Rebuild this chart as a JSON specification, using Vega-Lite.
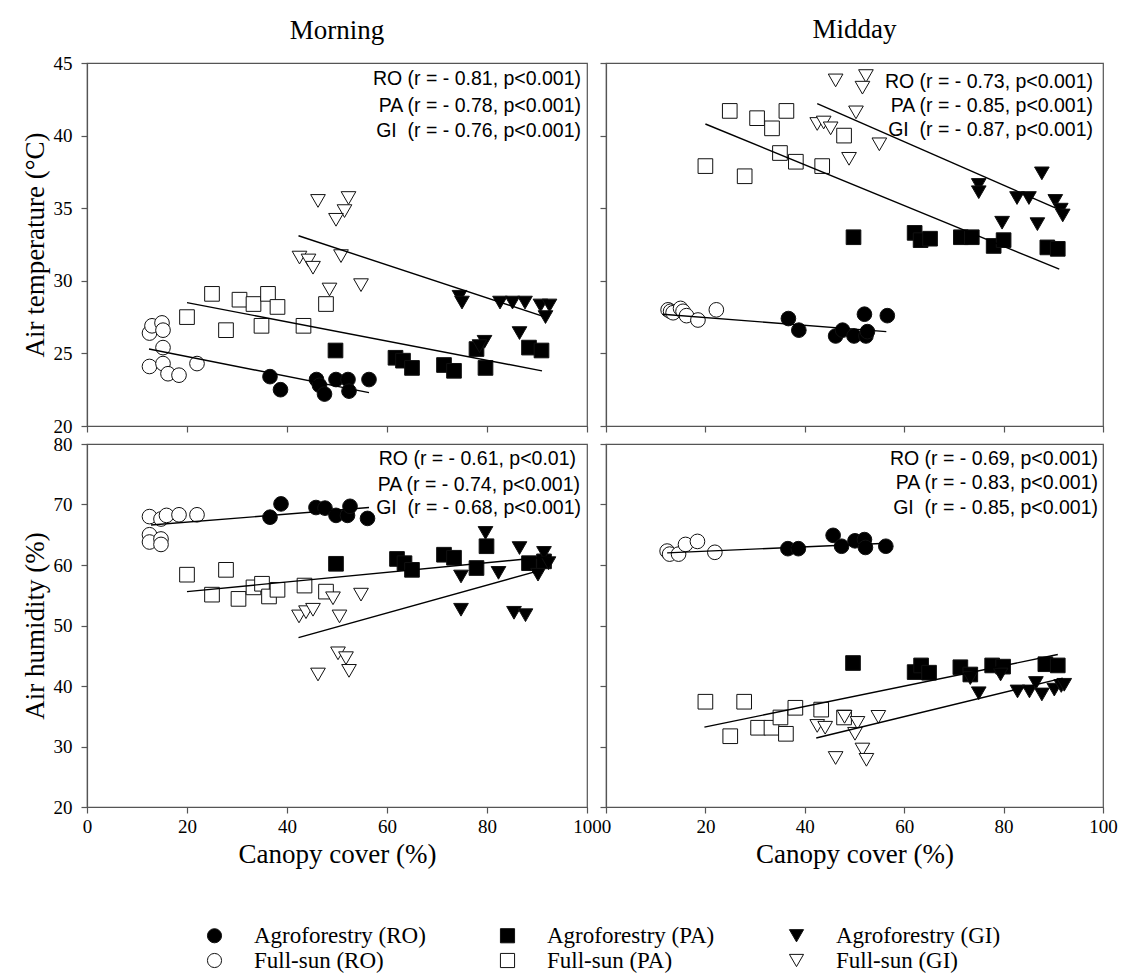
{
  "$schema": "https://vega.github.io/schema/vega-lite/v6.json",
  "background": "white",
  "padding": {"left": 20, "top": 15, "right": 10, "bottom": 2},
  "bounds": "flush",
  "columns": 2,
  "spacing": {"row": 18, "column": 19},
  "config": {
    "view": {"stroke": "#555", "strokeWidth": 1.2},
    "axis": {"grid": false, "domainColor": "#555", "domainWidth": 1.2, "tickColor": "#555", "tickWidth": 1.2, "tickSize": 6, "labelFont": "Liberation Serif", "labelFontSize": 19, "labelColor": "black", "titleFont": "Liberation Serif", "titleFontSize": 27, "titleFontWeight": "normal", "titleColor": "black", "labelFlush": false},
    "axisX": {"labelPadding": 4, "titlePadding": 5},
    "axisY": {"labelPadding": 9, "titlePadding": 4},
    "title": {"font": "Liberation Serif", "fontSize": 27, "fontWeight": "normal", "color": "black"},
    "legend": {"orient": "none", "legendX": 116, "legendY": 861, "columns": 3, "direction": "horizontal", "labelFont": "Liberation Serif", "labelFontSize": 23, "labelColor": "black", "symbolSize": 200, "symbolStrokeWidth": 1, "columnPadding": 70, "rowPadding": 1, "labelOffset": 28, "labelLimit": 300}
  },
  "datasets": {
    "pts": [
      {"panel": "MT", "s": "Full-sun (RO)", "x": 12.5, "y": 26.4},
      {"panel": "MT", "s": "Full-sun (RO)", "x": 13, "y": 26.9},
      {"panel": "MT", "s": "Full-sun (RO)", "x": 15, "y": 27.1},
      {"panel": "MT", "s": "Full-sun (RO)", "x": 15.2, "y": 26.6},
      {"panel": "MT", "s": "Full-sun (RO)", "x": 15.2, "y": 25.4},
      {"panel": "MT", "s": "Full-sun (RO)", "x": 12.5, "y": 24.1},
      {"panel": "MT", "s": "Full-sun (RO)", "x": 15.2, "y": 24.3},
      {"panel": "MT", "s": "Full-sun (RO)", "x": 16.2, "y": 23.6},
      {"panel": "MT", "s": "Full-sun (RO)", "x": 18.4, "y": 23.5},
      {"panel": "MT", "s": "Full-sun (RO)", "x": 22, "y": 24.3},
      {"panel": "MT", "s": "Agroforestry (RO)", "x": 36.6, "y": 23.4},
      {"panel": "MT", "s": "Agroforestry (RO)", "x": 38.7, "y": 22.5},
      {"panel": "MT", "s": "Agroforestry (RO)", "x": 45.9, "y": 23.2},
      {"panel": "MT", "s": "Agroforestry (RO)", "x": 46.5, "y": 22.8},
      {"panel": "MT", "s": "Agroforestry (RO)", "x": 47.5, "y": 22.2},
      {"panel": "MT", "s": "Agroforestry (RO)", "x": 49.8, "y": 23.2},
      {"panel": "MT", "s": "Agroforestry (RO)", "x": 52.2, "y": 23.2},
      {"panel": "MT", "s": "Agroforestry (RO)", "x": 52.4, "y": 22.4},
      {"panel": "MT", "s": "Agroforestry (RO)", "x": 56.4, "y": 23.2},
      {"panel": "MT", "s": "Full-sun (PA)", "x": 20, "y": 27.5},
      {"panel": "MT", "s": "Full-sun (PA)", "x": 25, "y": 29.1},
      {"panel": "MT", "s": "Full-sun (PA)", "x": 27.8, "y": 26.6},
      {"panel": "MT", "s": "Full-sun (PA)", "x": 30.5, "y": 28.7},
      {"panel": "MT", "s": "Full-sun (PA)", "x": 33.3, "y": 28.4},
      {"panel": "MT", "s": "Full-sun (PA)", "x": 36.2, "y": 29.1},
      {"panel": "MT", "s": "Full-sun (PA)", "x": 38.1, "y": 28.2},
      {"panel": "MT", "s": "Full-sun (PA)", "x": 34.9, "y": 26.9},
      {"panel": "MT", "s": "Full-sun (PA)", "x": 43.3, "y": 26.9},
      {"panel": "MT", "s": "Full-sun (PA)", "x": 47.8, "y": 28.4},
      {"panel": "MT", "s": "Agroforestry (PA)", "x": 49.7, "y": 25.2},
      {"panel": "MT", "s": "Agroforestry (PA)", "x": 61.7, "y": 24.7},
      {"panel": "MT", "s": "Agroforestry (PA)", "x": 63.2, "y": 24.5},
      {"panel": "MT", "s": "Agroforestry (PA)", "x": 65, "y": 24.0},
      {"panel": "MT", "s": "Agroforestry (PA)", "x": 71.4, "y": 24.2},
      {"panel": "MT", "s": "Agroforestry (PA)", "x": 73.4, "y": 23.8},
      {"panel": "MT", "s": "Agroforestry (PA)", "x": 79.7, "y": 24.0},
      {"panel": "MT", "s": "Agroforestry (PA)", "x": 77.9, "y": 25.3},
      {"panel": "MT", "s": "Agroforestry (PA)", "x": 88.4, "y": 25.4},
      {"panel": "MT", "s": "Agroforestry (PA)", "x": 90.9, "y": 25.2},
      {"panel": "MT", "s": "Full-sun (GI)", "x": 46.2, "y": 35.5},
      {"panel": "MT", "s": "Full-sun (GI)", "x": 52.3, "y": 35.7},
      {"panel": "MT", "s": "Full-sun (GI)", "x": 51.5, "y": 34.8},
      {"panel": "MT", "s": "Full-sun (GI)", "x": 49.8, "y": 34.2},
      {"panel": "MT", "s": "Full-sun (GI)", "x": 42.5, "y": 31.6},
      {"panel": "MT", "s": "Full-sun (GI)", "x": 44.3, "y": 31.4},
      {"panel": "MT", "s": "Full-sun (GI)", "x": 45.2, "y": 30.9},
      {"panel": "MT", "s": "Full-sun (GI)", "x": 50.8, "y": 31.7},
      {"panel": "MT", "s": "Full-sun (GI)", "x": 54.8, "y": 29.7},
      {"panel": "MT", "s": "Full-sun (GI)", "x": 48.5, "y": 29.4},
      {"panel": "MT", "s": "Agroforestry (GI)", "x": 74.5, "y": 28.9},
      {"panel": "MT", "s": "Agroforestry (GI)", "x": 75, "y": 28.5},
      {"panel": "MT", "s": "Agroforestry (GI)", "x": 82.6, "y": 28.5},
      {"panel": "MT", "s": "Agroforestry (GI)", "x": 85.1, "y": 28.5},
      {"panel": "MT", "s": "Agroforestry (GI)", "x": 87.6, "y": 28.5},
      {"panel": "MT", "s": "Agroforestry (GI)", "x": 90.7, "y": 28.3},
      {"panel": "MT", "s": "Agroforestry (GI)", "x": 92.5, "y": 28.3},
      {"panel": "MT", "s": "Agroforestry (GI)", "x": 91.7, "y": 27.5},
      {"panel": "MT", "s": "Agroforestry (GI)", "x": 86.5, "y": 26.4},
      {"panel": "MT", "s": "Agroforestry (GI)", "x": 79.5, "y": 25.8},
      {"panel": "MT", "s": "Agroforestry (GI)", "x": 78.5, "y": 25.5},

      {"panel": "DT", "s": "Full-sun (RO)", "x": 12.5, "y": 28.0},
      {"panel": "DT", "s": "Full-sun (RO)", "x": 13, "y": 27.9},
      {"panel": "DT", "s": "Full-sun (RO)", "x": 13.5, "y": 27.8},
      {"panel": "DT", "s": "Full-sun (RO)", "x": 15, "y": 28.1},
      {"panel": "DT", "s": "Full-sun (RO)", "x": 15.5, "y": 27.9},
      {"panel": "DT", "s": "Full-sun (RO)", "x": 16.2, "y": 27.6},
      {"panel": "DT", "s": "Full-sun (RO)", "x": 18.5, "y": 27.3},
      {"panel": "DT", "s": "Full-sun (RO)", "x": 22.2, "y": 28.0},
      {"panel": "DT", "s": "Agroforestry (RO)", "x": 36.7, "y": 27.4},
      {"panel": "DT", "s": "Agroforestry (RO)", "x": 38.8, "y": 26.6},
      {"panel": "DT", "s": "Agroforestry (RO)", "x": 46.2, "y": 26.2},
      {"panel": "DT", "s": "Agroforestry (RO)", "x": 47.6, "y": 26.6},
      {"panel": "DT", "s": "Agroforestry (RO)", "x": 49.9, "y": 26.2},
      {"panel": "DT", "s": "Agroforestry (RO)", "x": 52.3, "y": 26.2},
      {"panel": "DT", "s": "Agroforestry (RO)", "x": 52.6, "y": 26.5},
      {"panel": "DT", "s": "Agroforestry (RO)", "x": 52, "y": 27.7},
      {"panel": "DT", "s": "Agroforestry (RO)", "x": 56.6, "y": 27.6},
      {"panel": "DT", "s": "Full-sun (PA)", "x": 20, "y": 37.9},
      {"panel": "DT", "s": "Full-sun (PA)", "x": 24.9, "y": 41.7},
      {"panel": "DT", "s": "Full-sun (PA)", "x": 30.4, "y": 41.2},
      {"panel": "DT", "s": "Full-sun (PA)", "x": 33.4, "y": 40.5},
      {"panel": "DT", "s": "Full-sun (PA)", "x": 36.3, "y": 41.7},
      {"panel": "DT", "s": "Full-sun (PA)", "x": 35, "y": 38.8},
      {"panel": "DT", "s": "Full-sun (PA)", "x": 38.2, "y": 38.2},
      {"panel": "DT", "s": "Full-sun (PA)", "x": 27.9, "y": 37.2},
      {"panel": "DT", "s": "Full-sun (PA)", "x": 43.5, "y": 37.9},
      {"panel": "DT", "s": "Full-sun (PA)", "x": 47.9, "y": 40.0},
      {"panel": "DT", "s": "Agroforestry (PA)", "x": 49.8, "y": 33.0},
      {"panel": "DT", "s": "Agroforestry (PA)", "x": 62.1, "y": 33.3},
      {"panel": "DT", "s": "Agroforestry (PA)", "x": 63.3, "y": 32.8},
      {"panel": "DT", "s": "Agroforestry (PA)", "x": 65.2, "y": 32.9},
      {"panel": "DT", "s": "Agroforestry (PA)", "x": 71.4, "y": 33.0},
      {"panel": "DT", "s": "Agroforestry (PA)", "x": 73.6, "y": 33.0},
      {"panel": "DT", "s": "Agroforestry (PA)", "x": 78, "y": 32.4},
      {"panel": "DT", "s": "Agroforestry (PA)", "x": 80, "y": 32.8},
      {"panel": "DT", "s": "Agroforestry (PA)", "x": 88.8, "y": 32.3},
      {"panel": "DT", "s": "Agroforestry (PA)", "x": 90.9, "y": 32.2},
      {"panel": "DT", "s": "Full-sun (GI)", "x": 46.2, "y": 43.8},
      {"panel": "DT", "s": "Full-sun (GI)", "x": 52.3, "y": 44.1},
      {"panel": "DT", "s": "Full-sun (GI)", "x": 51.6, "y": 43.3},
      {"panel": "DT", "s": "Full-sun (GI)", "x": 50.3, "y": 41.6},
      {"panel": "DT", "s": "Full-sun (GI)", "x": 42.5, "y": 40.8},
      {"panel": "DT", "s": "Full-sun (GI)", "x": 43.8, "y": 40.9},
      {"panel": "DT", "s": "Full-sun (GI)", "x": 45.2, "y": 40.5},
      {"panel": "DT", "s": "Full-sun (GI)", "x": 48.9, "y": 38.4},
      {"panel": "DT", "s": "Full-sun (GI)", "x": 55, "y": 39.4},
      {"panel": "DT", "s": "Agroforestry (GI)", "x": 75, "y": 36.6},
      {"panel": "DT", "s": "Agroforestry (GI)", "x": 75, "y": 36.1},
      {"panel": "DT", "s": "Agroforestry (GI)", "x": 87.7, "y": 37.4},
      {"panel": "DT", "s": "Agroforestry (GI)", "x": 82.7, "y": 35.7},
      {"panel": "DT", "s": "Agroforestry (GI)", "x": 85.1, "y": 35.7},
      {"panel": "DT", "s": "Agroforestry (GI)", "x": 90.4, "y": 35.5},
      {"panel": "DT", "s": "Agroforestry (GI)", "x": 91.5, "y": 34.9},
      {"panel": "DT", "s": "Agroforestry (GI)", "x": 91.9, "y": 34.5},
      {"panel": "DT", "s": "Agroforestry (GI)", "x": 86.8, "y": 33.9},
      {"panel": "DT", "s": "Agroforestry (GI)", "x": 79.7, "y": 34.0},

      {"panel": "MH", "s": "Full-sun (RO)", "x": 12.5, "y": 68.0},
      {"panel": "MH", "s": "Full-sun (RO)", "x": 14.8, "y": 67.6},
      {"panel": "MH", "s": "Full-sun (RO)", "x": 15.9, "y": 68.2},
      {"panel": "MH", "s": "Full-sun (RO)", "x": 18.4, "y": 68.3},
      {"panel": "MH", "s": "Full-sun (RO)", "x": 22, "y": 68.3},
      {"panel": "MH", "s": "Full-sun (RO)", "x": 12.5, "y": 65.0},
      {"panel": "MH", "s": "Full-sun (RO)", "x": 12.5, "y": 63.8},
      {"panel": "MH", "s": "Full-sun (RO)", "x": 14.8, "y": 64.3},
      {"panel": "MH", "s": "Full-sun (RO)", "x": 14.8, "y": 63.4},
      {"panel": "MH", "s": "Agroforestry (RO)", "x": 36.6, "y": 67.9},
      {"panel": "MH", "s": "Agroforestry (RO)", "x": 38.8, "y": 70.1},
      {"panel": "MH", "s": "Agroforestry (RO)", "x": 45.8, "y": 69.5},
      {"panel": "MH", "s": "Agroforestry (RO)", "x": 47.6, "y": 69.4},
      {"panel": "MH", "s": "Agroforestry (RO)", "x": 49.8, "y": 68.2},
      {"panel": "MH", "s": "Agroforestry (RO)", "x": 52.1, "y": 68.2},
      {"panel": "MH", "s": "Agroforestry (RO)", "x": 52.6, "y": 69.7},
      {"panel": "MH", "s": "Agroforestry (RO)", "x": 56.1, "y": 67.7},
      {"panel": "MH", "s": "Full-sun (PA)", "x": 20, "y": 58.4},
      {"panel": "MH", "s": "Full-sun (PA)", "x": 27.8, "y": 59.2},
      {"panel": "MH", "s": "Full-sun (PA)", "x": 25, "y": 55.1},
      {"panel": "MH", "s": "Full-sun (PA)", "x": 30.3, "y": 54.4},
      {"panel": "MH", "s": "Full-sun (PA)", "x": 33.3, "y": 56.3},
      {"panel": "MH", "s": "Full-sun (PA)", "x": 35, "y": 56.9},
      {"panel": "MH", "s": "Full-sun (PA)", "x": 36.4, "y": 54.8},
      {"panel": "MH", "s": "Full-sun (PA)", "x": 38.1, "y": 55.9},
      {"panel": "MH", "s": "Full-sun (PA)", "x": 43.5, "y": 56.6},
      {"panel": "MH", "s": "Full-sun (PA)", "x": 47.8, "y": 55.6},
      {"panel": "MH", "s": "Agroforestry (PA)", "x": 49.8, "y": 60.2},
      {"panel": "MH", "s": "Agroforestry (PA)", "x": 62, "y": 61.0},
      {"panel": "MH", "s": "Agroforestry (PA)", "x": 63.5, "y": 60.3},
      {"panel": "MH", "s": "Agroforestry (PA)", "x": 65, "y": 59.2},
      {"panel": "MH", "s": "Agroforestry (PA)", "x": 71.4, "y": 61.7},
      {"panel": "MH", "s": "Agroforestry (PA)", "x": 73.4, "y": 61.2},
      {"panel": "MH", "s": "Agroforestry (PA)", "x": 79.9, "y": 63.1},
      {"panel": "MH", "s": "Agroforestry (PA)", "x": 77.9, "y": 59.5},
      {"panel": "MH", "s": "Agroforestry (PA)", "x": 88.4, "y": 60.3},
      {"panel": "MH", "s": "Agroforestry (PA)", "x": 91.4, "y": 60.6},
      {"panel": "MH", "s": "Full-sun (GI)", "x": 42.4, "y": 51.5},
      {"panel": "MH", "s": "Full-sun (GI)", "x": 43.8, "y": 52.2},
      {"panel": "MH", "s": "Full-sun (GI)", "x": 45.2, "y": 52.6},
      {"panel": "MH", "s": "Full-sun (GI)", "x": 49.2, "y": 54.5},
      {"panel": "MH", "s": "Full-sun (GI)", "x": 50.5, "y": 51.5},
      {"panel": "MH", "s": "Full-sun (GI)", "x": 54.8, "y": 55.1},
      {"panel": "MH", "s": "Full-sun (GI)", "x": 50.2, "y": 45.4},
      {"panel": "MH", "s": "Full-sun (GI)", "x": 51.8, "y": 44.6},
      {"panel": "MH", "s": "Full-sun (GI)", "x": 52.4, "y": 42.5},
      {"panel": "MH", "s": "Full-sun (GI)", "x": 46.2, "y": 41.9},
      {"panel": "MH", "s": "Agroforestry (GI)", "x": 74.8, "y": 58.1},
      {"panel": "MH", "s": "Agroforestry (GI)", "x": 74.8, "y": 52.6},
      {"panel": "MH", "s": "Agroforestry (GI)", "x": 79.7, "y": 65.3},
      {"panel": "MH", "s": "Agroforestry (GI)", "x": 86.5, "y": 62.8},
      {"panel": "MH", "s": "Agroforestry (GI)", "x": 85.4, "y": 52.1},
      {"panel": "MH", "s": "Agroforestry (GI)", "x": 87.7, "y": 51.7},
      {"panel": "MH", "s": "Agroforestry (GI)", "x": 82.3, "y": 58.7},
      {"panel": "MH", "s": "Agroforestry (GI)", "x": 90.2, "y": 58.4},
      {"panel": "MH", "s": "Agroforestry (GI)", "x": 91.4, "y": 62.0},
      {"panel": "MH", "s": "Agroforestry (GI)", "x": 92.3, "y": 60.3},

      {"panel": "DH", "s": "Full-sun (RO)", "x": 12.3, "y": 62.3},
      {"panel": "DH", "s": "Full-sun (RO)", "x": 12.8, "y": 61.8},
      {"panel": "DH", "s": "Full-sun (RO)", "x": 14.6, "y": 61.8},
      {"panel": "DH", "s": "Full-sun (RO)", "x": 16, "y": 63.4},
      {"panel": "DH", "s": "Full-sun (RO)", "x": 18.4, "y": 63.9},
      {"panel": "DH", "s": "Full-sun (RO)", "x": 21.9, "y": 62.1},
      {"panel": "DH", "s": "Agroforestry (RO)", "x": 36.6, "y": 62.7},
      {"panel": "DH", "s": "Agroforestry (RO)", "x": 38.7, "y": 62.7},
      {"panel": "DH", "s": "Agroforestry (RO)", "x": 45.7, "y": 64.9},
      {"panel": "DH", "s": "Agroforestry (RO)", "x": 47.4, "y": 63.1},
      {"panel": "DH", "s": "Agroforestry (RO)", "x": 50.1, "y": 64.0},
      {"panel": "DH", "s": "Agroforestry (RO)", "x": 52, "y": 64.2},
      {"panel": "DH", "s": "Agroforestry (RO)", "x": 52.2, "y": 62.9},
      {"panel": "DH", "s": "Agroforestry (RO)", "x": 56.3, "y": 63.1},
      {"panel": "DH", "s": "Full-sun (PA)", "x": 20, "y": 37.4},
      {"panel": "DH", "s": "Full-sun (PA)", "x": 27.8, "y": 37.4},
      {"panel": "DH", "s": "Full-sun (PA)", "x": 25, "y": 31.7},
      {"panel": "DH", "s": "Full-sun (PA)", "x": 30.6, "y": 33.1},
      {"panel": "DH", "s": "Full-sun (PA)", "x": 33.3, "y": 33.1},
      {"panel": "DH", "s": "Full-sun (PA)", "x": 35.1, "y": 34.8},
      {"panel": "DH", "s": "Full-sun (PA)", "x": 36.2, "y": 32.1},
      {"panel": "DH", "s": "Full-sun (PA)", "x": 38.1, "y": 36.4},
      {"panel": "DH", "s": "Full-sun (PA)", "x": 43.3, "y": 36.1},
      {"panel": "DH", "s": "Full-sun (PA)", "x": 47.9, "y": 34.8},
      {"panel": "DH", "s": "Agroforestry (PA)", "x": 49.7, "y": 43.8},
      {"panel": "DH", "s": "Agroforestry (PA)", "x": 62.1, "y": 42.3},
      {"panel": "DH", "s": "Agroforestry (PA)", "x": 63.4, "y": 43.4},
      {"panel": "DH", "s": "Agroforestry (PA)", "x": 65, "y": 42.2},
      {"panel": "DH", "s": "Agroforestry (PA)", "x": 71.3, "y": 43.1},
      {"panel": "DH", "s": "Agroforestry (PA)", "x": 73.3, "y": 41.9},
      {"panel": "DH", "s": "Agroforestry (PA)", "x": 77.7, "y": 43.4},
      {"panel": "DH", "s": "Agroforestry (PA)", "x": 79.9, "y": 43.2},
      {"panel": "DH", "s": "Agroforestry (PA)", "x": 88.4, "y": 43.6},
      {"panel": "DH", "s": "Agroforestry (PA)", "x": 90.9, "y": 43.4},
      {"panel": "DH", "s": "Full-sun (GI)", "x": 42.5, "y": 33.4},
      {"panel": "DH", "s": "Full-sun (GI)", "x": 44.1, "y": 33.1},
      {"panel": "DH", "s": "Full-sun (GI)", "x": 48, "y": 34.9},
      {"panel": "DH", "s": "Full-sun (GI)", "x": 50.6, "y": 33.9},
      {"panel": "DH", "s": "Full-sun (GI)", "x": 50.1, "y": 32.1},
      {"panel": "DH", "s": "Full-sun (GI)", "x": 54.8, "y": 34.9},
      {"panel": "DH", "s": "Full-sun (GI)", "x": 46.2, "y": 28.1},
      {"panel": "DH", "s": "Full-sun (GI)", "x": 51.6, "y": 29.5},
      {"panel": "DH", "s": "Full-sun (GI)", "x": 52.4, "y": 27.8},
      {"panel": "DH", "s": "Agroforestry (GI)", "x": 73.3, "y": 41.3},
      {"panel": "DH", "s": "Agroforestry (GI)", "x": 75, "y": 38.8},
      {"panel": "DH", "s": "Agroforestry (GI)", "x": 79.4, "y": 41.9},
      {"panel": "DH", "s": "Agroforestry (GI)", "x": 82.8, "y": 39.1},
      {"panel": "DH", "s": "Agroforestry (GI)", "x": 85.2, "y": 39.1},
      {"panel": "DH", "s": "Agroforestry (GI)", "x": 86.5, "y": 40.5},
      {"panel": "DH", "s": "Agroforestry (GI)", "x": 87.7, "y": 38.6},
      {"panel": "DH", "s": "Agroforestry (GI)", "x": 90.2, "y": 39.4},
      {"panel": "DH", "s": "Agroforestry (GI)", "x": 91.6, "y": 40.0},
      {"panel": "DH", "s": "Agroforestry (GI)", "x": 92.2, "y": 40.2}
    ],
    "fits": [
      {"panel": "MT", "g": "RO", "x": 12.4, "y": 25.3}, {"panel": "MT", "g": "RO", "x": 56.4, "y": 22.3},
      {"panel": "MT", "g": "PA", "x": 20, "y": 28.5}, {"panel": "MT", "g": "PA", "x": 91, "y": 23.8},
      {"panel": "MT", "g": "GI", "x": 42.3, "y": 33.1}, {"panel": "MT", "g": "GI", "x": 91.7, "y": 27.5},
      {"panel": "DT", "g": "RO", "x": 11.4, "y": 27.7}, {"panel": "DT", "g": "RO", "x": 56.4, "y": 26.5},
      {"panel": "DT", "g": "PA", "x": 20, "y": 40.8}, {"panel": "DT", "g": "PA", "x": 91.2, "y": 30.8},
      {"panel": "DT", "g": "GI", "x": 42.5, "y": 42.2}, {"panel": "DT", "g": "GI", "x": 91.9, "y": 34.8},
      {"panel": "MH", "g": "RO", "x": 12.8, "y": 66.6}, {"panel": "MH", "g": "RO", "x": 56.4, "y": 69.5},
      {"panel": "MH", "g": "PA", "x": 20, "y": 55.6}, {"panel": "MH", "g": "PA", "x": 92.8, "y": 61.4},
      {"panel": "MH", "g": "GI", "x": 42.3, "y": 48.0}, {"panel": "MH", "g": "GI", "x": 91, "y": 59.2},
      {"panel": "DH", "g": "RO", "x": 12.3, "y": 62.0}, {"panel": "DH", "g": "RO", "x": 56.5, "y": 63.6},
      {"panel": "DH", "g": "PA", "x": 19.8, "y": 33.2}, {"panel": "DH", "g": "PA", "x": 90.9, "y": 45.2},
      {"panel": "DH", "g": "GI", "x": 42.3, "y": 31.4}, {"panel": "DH", "g": "GI", "x": 91.9, "y": 41.3}
    ],
    "notes": [
      {"panel": "MT", "x": 98.8, "y": 43.9, "t": "RO (r = - 0.81, p<0.001)"},
      {"panel": "MT", "x": 98.8, "y": 42.05, "t": "PA (r = - 0.78, p<0.001)"},
      {"panel": "MT", "x": 98.8, "y": 40.3, "t": "GI\u00a0 (r = - 0.76, p<0.001)"},
      {"panel": "DT", "x": 98, "y": 43.7, "t": "RO (r = - 0.73, p<0.001)"},
      {"panel": "DT", "x": 98, "y": 42.05, "t": "PA (r = - 0.85, p<0.001)"},
      {"panel": "DT", "x": 98, "y": 40.4, "t": "GI\u00a0 (r = - 0.87, p<0.001)"},
      {"panel": "MH", "x": 97.8, "y": 77.6, "t": "RO (r = - 0.61, p<0.01)"},
      {"panel": "MH", "x": 98.6, "y": 73.2, "t": "PA (r = - 0.74, p<0.001)"},
      {"panel": "MH", "x": 98.8, "y": 69.4, "t": "GI\u00a0 (r = - 0.68, p<0.001)"},
      {"panel": "DH", "x": 99, "y": 77.6, "t": "RO (r = - 0.69, p<0.001)"},
      {"panel": "DH", "x": 99, "y": 73.5, "t": "PA (r = - 0.83, p<0.001)"},
      {"panel": "DH", "x": 99, "y": 69.4, "t": "GI\u00a0 (r = - 0.85, p<0.001)"}
    ]
  },
  "concat": [
    {
      "width": 500, "height": 363,
      "title": {"text": "Morning", "frame": "group", "offset": 9},
      "layer": [
        {
          "data": {"name": "pts"},
          "transform": [{"filter": "datum.panel === 'MT'"}],
          "mark": {"type": "point", "filled": true, "strokeWidth": 1, "size": 215, "opacity": 1},
          "encoding": {
            "x": {"field": "x", "type": "quantitative", "scale": {"domain": [0, 100], "nice": false}, "axis": {"values": [0, 20, 40, 60, 80, 100], "labels": false, "title": null}},
            "y": {"field": "y", "type": "quantitative", "scale": {"domain": [20, 45], "nice": false, "zero": false}, "axis": {"values": [20, 25, 30, 35, 40, 45], "title": "Air temperature (°C)"}},
            "shape": {"field": "s", "type": "nominal", "title": null, "scale": {"domain": ["Agroforestry (RO)", "Agroforestry (PA)", "Agroforestry (GI)", "Full-sun (RO)", "Full-sun (PA)", "Full-sun (GI)"], "range": ["circle", "square", "triangle-down", "circle", "square", "triangle-down"]}},
            "fill": {"field": "s", "type": "nominal", "title": null, "scale": {"domain": ["Agroforestry (RO)", "Agroforestry (PA)", "Agroforestry (GI)", "Full-sun (RO)", "Full-sun (PA)", "Full-sun (GI)"], "range": ["black", "black", "black", "white", "white", "white"]}},
            "stroke": {"field": "s", "type": "nominal", "title": null, "scale": {"domain": ["Agroforestry (RO)", "Agroforestry (PA)", "Agroforestry (GI)", "Full-sun (RO)", "Full-sun (PA)", "Full-sun (GI)"], "range": ["#111", "#111", "#111", "#111", "#111", "#111"]}}
          }
        },
        {
          "data": {"name": "fits"},
          "transform": [{"filter": "datum.panel === 'MT'"}],
          "mark": {"type": "line", "color": "black", "strokeWidth": 1.4},
          "encoding": {"x": {"field": "x", "type": "quantitative"}, "y": {"field": "y", "type": "quantitative"}, "detail": {"field": "g"}}
        },
        {
          "data": {"name": "notes"},
          "transform": [{"filter": "datum.panel === 'MT'"}],
          "mark": {"type": "text", "align": "right", "baseline": "middle", "font": "Liberation Sans", "fontSize": 19.5, "color": "black"},
          "encoding": {"x": {"field": "x", "type": "quantitative"}, "y": {"field": "y", "type": "quantitative"}, "text": {"field": "t"}}
        }
      ]
    },
    {
      "width": 497, "height": 363,
      "title": {"text": "Midday", "frame": "group", "offset": 18},
      "layer": [
        {
          "data": {"name": "pts"},
          "transform": [{"filter": "datum.panel === 'DT'"}],
          "mark": {"type": "point", "filled": true, "strokeWidth": 1, "size": 215, "opacity": 1},
          "encoding": {
            "x": {"field": "x", "type": "quantitative", "scale": {"domain": [0, 100], "nice": false}, "axis": {"values": [0, 20, 40, 60, 80, 100], "labels": false, "title": null}},
            "y": {"field": "y", "type": "quantitative", "scale": {"domain": [20, 45], "nice": false, "zero": false}, "axis": {"values": [20, 25, 30, 35, 40, 45], "labels": false, "title": null}},
            "shape": {"field": "s", "type": "nominal", "title": null},
            "fill": {"field": "s", "type": "nominal", "title": null},
            "stroke": {"field": "s", "type": "nominal", "title": null}
          }
        },
        {
          "data": {"name": "fits"},
          "transform": [{"filter": "datum.panel === 'DT'"}],
          "mark": {"type": "line", "color": "black", "strokeWidth": 1.4},
          "encoding": {"x": {"field": "x", "type": "quantitative"}, "y": {"field": "y", "type": "quantitative"}, "detail": {"field": "g"}}
        },
        {
          "data": {"name": "notes"},
          "transform": [{"filter": "datum.panel === 'DT'"}],
          "mark": {"type": "text", "align": "right", "baseline": "middle", "font": "Liberation Sans", "fontSize": 19.5, "color": "black"},
          "encoding": {"x": {"field": "x", "type": "quantitative"}, "y": {"field": "y", "type": "quantitative"}, "text": {"field": "t"}}
        }
      ]
    },
    {
      "width": 500, "height": 363,
      "layer": [
        {
          "data": {"name": "pts"},
          "transform": [{"filter": "datum.panel === 'MH'"}],
          "mark": {"type": "point", "filled": true, "strokeWidth": 1, "size": 215, "opacity": 1},
          "encoding": {
            "x": {"field": "x", "type": "quantitative", "scale": {"domain": [0, 100], "nice": false}, "axis": {"values": [0, 20, 40, 60, 80, 100], "title": "Canopy cover (%)"}},
            "y": {"field": "y", "type": "quantitative", "scale": {"domain": [20, 80], "nice": false, "zero": false}, "axis": {"values": [20, 30, 40, 50, 60, 70, 80], "title": "Air humidity (%)"}},
            "shape": {"field": "s", "type": "nominal", "title": null},
            "fill": {"field": "s", "type": "nominal", "title": null},
            "stroke": {"field": "s", "type": "nominal", "title": null}
          }
        },
        {
          "data": {"name": "fits"},
          "transform": [{"filter": "datum.panel === 'MH'"}],
          "mark": {"type": "line", "color": "black", "strokeWidth": 1.4},
          "encoding": {"x": {"field": "x", "type": "quantitative"}, "y": {"field": "y", "type": "quantitative"}, "detail": {"field": "g"}}
        },
        {
          "data": {"name": "notes"},
          "transform": [{"filter": "datum.panel === 'MH'"}],
          "mark": {"type": "text", "align": "right", "baseline": "middle", "font": "Liberation Sans", "fontSize": 19.5, "color": "black"},
          "encoding": {"x": {"field": "x", "type": "quantitative"}, "y": {"field": "y", "type": "quantitative"}, "text": {"field": "t"}}
        }
      ]
    },
    {
      "width": 497, "height": 363,
      "layer": [
        {
          "data": {"name": "pts"},
          "transform": [{"filter": "datum.panel === 'DH'"}],
          "mark": {"type": "point", "filled": true, "strokeWidth": 1, "size": 215, "opacity": 1},
          "encoding": {
            "x": {"field": "x", "type": "quantitative", "scale": {"domain": [0, 100], "nice": false}, "axis": {"values": [0, 20, 40, 60, 80, 100], "title": "Canopy cover (%)"}},
            "y": {"field": "y", "type": "quantitative", "scale": {"domain": [20, 80], "nice": false, "zero": false}, "axis": {"values": [20, 30, 40, 50, 60, 70, 80], "labels": false, "title": null}},
            "shape": {"field": "s", "type": "nominal", "title": null},
            "fill": {"field": "s", "type": "nominal", "title": null},
            "stroke": {"field": "s", "type": "nominal", "title": null}
          }
        },
        {
          "data": {"name": "fits"},
          "transform": [{"filter": "datum.panel === 'DH'"}],
          "mark": {"type": "line", "color": "black", "strokeWidth": 1.4},
          "encoding": {"x": {"field": "x", "type": "quantitative"}, "y": {"field": "y", "type": "quantitative"}, "detail": {"field": "g"}}
        },
        {
          "data": {"name": "notes"},
          "transform": [{"filter": "datum.panel === 'DH'"}],
          "mark": {"type": "text", "align": "right", "baseline": "middle", "font": "Liberation Sans", "fontSize": 19.5, "color": "black"},
          "encoding": {"x": {"field": "x", "type": "quantitative"}, "y": {"field": "y", "type": "quantitative"}, "text": {"field": "t"}}
        }
      ]
    }
  ]
}
